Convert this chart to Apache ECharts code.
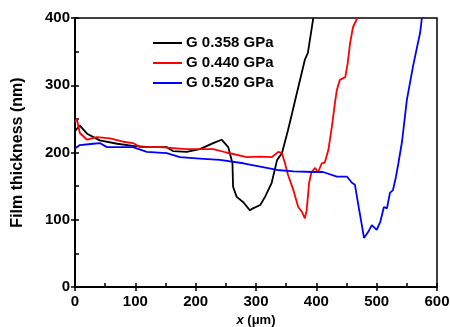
<!DOCTYPE html>
<html>
<head>
<meta charset="utf-8">
<script src="https://cdn.jsdelivr.net/npm/echarts@6/dist/echarts.min.js"></script>
<style>
  html, body { margin: 0; padding: 0; background: #fff; }
  #chart { width: 450px; height: 327px; }
</style>
</head>
<body>
<div id="chart"></div>
<script>
// G 0.358 GPa
var blackX = [0, 8, 20, 41, 70, 96, 124, 152, 163, 185, 207, 229, 243, 254, 261, 262, 268, 279, 290, 295, 307, 315, 326, 335, 343, 353, 360, 365, 381, 386, 395];
var blackY = [232, 240, 228, 218, 213, 210, 208, 208, 202, 201, 205, 214, 219, 208, 184, 149, 134, 126, 114, 117, 122, 134, 155, 189, 199, 233, 259, 278, 338, 348, 400];
// G 0.440 GPa
var redX = [0, 3, 8, 20, 36, 58, 80, 96, 108, 141, 185, 229, 251, 285, 307, 326, 337, 343, 348, 353, 362, 370, 376, 381, 384, 388, 392, 398, 403, 409, 414, 420, 426, 431, 434, 439, 448, 452, 456, 459, 461, 468];
var redY = [245, 250, 229, 219, 223, 221, 216, 214, 208, 208, 205, 205, 200, 193, 194, 193, 201, 199, 184, 167, 144, 119, 112, 102, 114, 155, 171, 177, 171, 184, 185, 204, 240, 275, 293, 308, 312, 333, 363, 378, 387, 400];
// G 0.520 GPa
var blueX = [0, 8, 30, 41, 53, 96, 119, 152, 174, 207, 240, 279, 307, 335, 362, 395, 411, 434, 451, 459, 464, 469, 476, 479, 486, 492, 500, 506, 512, 517, 522, 527, 532, 536, 542, 550, 560, 567, 572, 575];
var blueY = [206, 211, 213, 214, 208, 208, 201, 199, 193, 191, 189, 184, 179, 174, 172, 171, 171, 164, 164, 155, 152, 125, 89, 73, 82, 92, 85, 97, 119, 117, 140, 144, 164, 184, 216, 278, 327, 357, 378, 400];

var seriesNames = ['G 0.358 GPa', 'G 0.440 GPa', 'G 0.520 GPa'];
var seriesColors = ['#000000', '#ff0000', '#0000ff'];

function pairs(xs, ys) {
    return xs.map(function (x, i) { return [x, ys[i]] })
}

var myChart = echarts.init(document.getElementById('chart'))
var font = 'Liberation Sans, Arial, sans-serif'
var option = {
    backgroundColor: '#fff',
    animation: false,
    grid: {
        left: 75, right: 13, top: 18, bottom: 40,
        outerBoundsMode: 'none',
        containLabel: false,
        show: true, borderColor: '#000', borderWidth: 1.5
    },
    legend: {
        orient: 'vertical',
        left: 148, top: 30,
        icon: 'rect',
        itemWidth: 29, itemHeight: 2, itemGap: 4,
        textStyle: { fontFamily: font, fontWeight: 'bold', fontSize: 15, color: '#000', lineHeight: 16, padding: [0, 0, 0, -1] },
        data: seriesNames
    },
    xAxis: [{
        type: 'value', min: 0, max: 600, interval: 100,
        name: '{i|x} (μm)', nameLocation: 'middle', nameGap: 27,
        nameTextStyle: {
            fontFamily: font, fontWeight: 'bold', fontSize: 13, color: '#000',
            rich: { i: { fontFamily: font, fontWeight: 'bold', fontStyle: 'italic', fontSize: 13, color: '#000' } }
        },
        axisLine: { lineStyle: { color: '#000', width: 2 } },
        axisTick: { inside: false, length: 4, lineStyle: { color: '#000', width: 1.5 } },
        axisLabel: { fontFamily: font, fontWeight: 'bold', fontSize: 15, color: '#000', margin: 7 },
        splitLine: { show: false }
    }, {
        type: 'value', min: 0, max: 600, interval: 50, position: 'bottom',
        axisLine: { show: false },
        axisTick: { inside: true, length: 4, lineStyle: { color: '#000', width: 1.5 } },
        axisLabel: { show: false },
        splitLine: { show: false }
    }],
    yAxis: [{
        type: 'value', min: 0, max: 400, interval: 100,
        name: 'Film thickness (nm)', nameLocation: 'middle', nameGap: 49,
        nameTextStyle: { fontFamily: font, fontWeight: 'bold', fontSize: 16, color: '#000' },
        axisLine: { lineStyle: { color: '#000', width: 2 } },
        axisTick: { inside: false, length: 4, lineStyle: { color: '#000', width: 1.5 } },
        axisLabel: { fontFamily: font, fontWeight: 'bold', fontSize: 15, color: '#000', margin: 5 },
        splitLine: { show: false }
    }, {
        type: 'value', min: 0, max: 400, interval: 50, position: 'left',
        axisLine: { show: false },
        axisTick: { inside: true, length: 4, lineStyle: { color: '#000', width: 1.5 } },
        axisLabel: { show: false },
        splitLine: { show: false }
    }],
    series: [
        { name: seriesNames[0], data: pairs(blackX, blackY) },
        { name: seriesNames[1], data: pairs(redX, redY) },
        { name: seriesNames[2], data: pairs(blueX, blueY) }
    ].map(function (s, i) {
        return Object.assign(s, {
            type: 'line',
            symbol: 'none',
            xAxisIndex: 0,
            yAxisIndex: 0,
            color: seriesColors[i],
            lineStyle: { color: seriesColors[i], width: 1.8 }
        })
    })
}
myChart.setOption(option)
</script>
</body>
</html>
